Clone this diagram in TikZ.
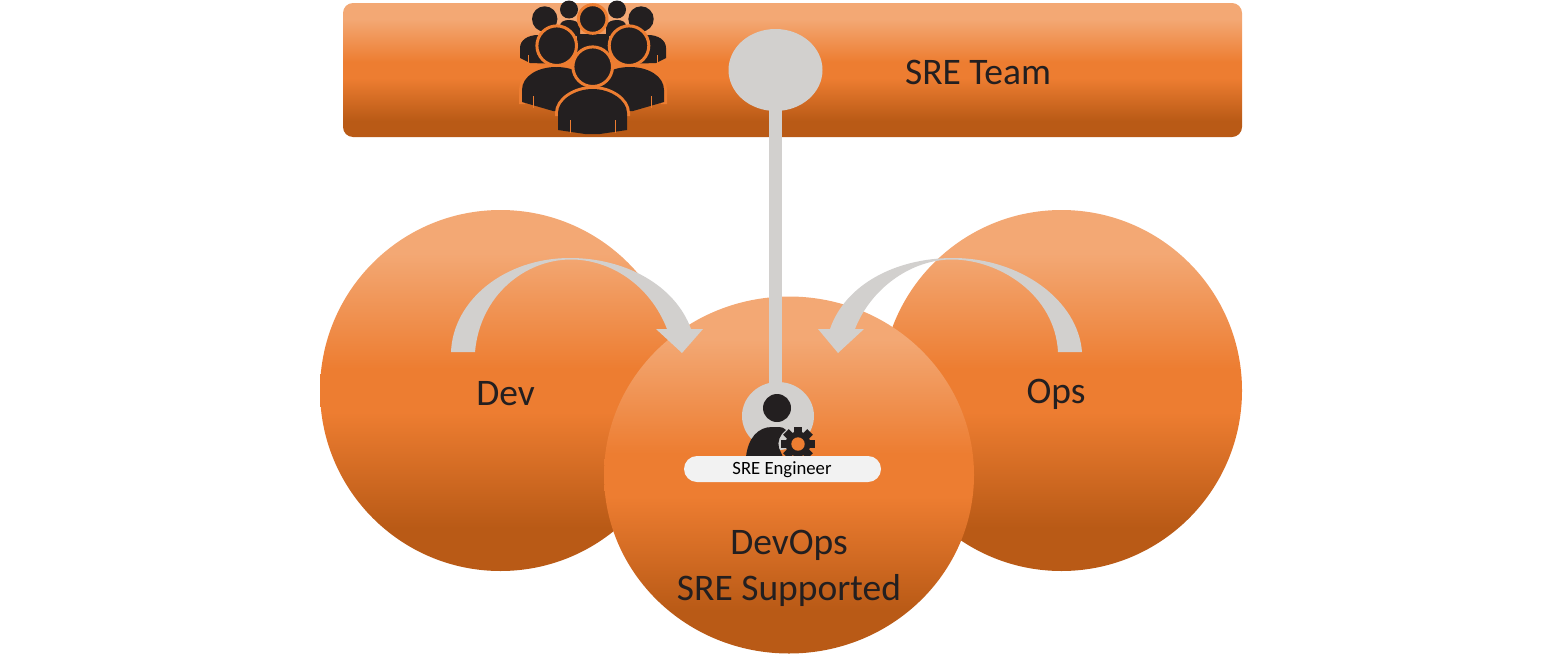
\documentclass[tikz,border=0pt]{standalone}
\usepackage{fontspec}
\setmainfont{Carlito}
\usetikzlibrary{shapes.geometric}
\definecolor{ol}{HTML}{F3A874}
\definecolor{om}{HTML}{ED7D31}
\definecolor{ob}{HTML}{B95A16}
\definecolor{gr}{HTML}{D2D0CE}
\definecolor{ink}{HTML}{231F20}
\definecolor{pillc}{HTML}{F2F2F2}
\pgfdeclareverticalshading{orangeg}{100bp}{color(0bp)=(ob); color(31bp)=(ob); color(47bp)=(om); color(53bp)=(om); color(69bp)=(ol); color(100bp)=(ol)}
\tikzset{
  grad/.style={shade,shading=orangeg,draw=none,inner sep=0pt,outer sep=0pt},
  blob/.style={grad,ellipse,minimum width=#1},
  dot/.style={ellipse,fill=gr,draw=none,inner sep=0pt,outer sep=0pt},
  lbl/.style={text=ink,font=\fontsize{37.5}{44}\selectfont,inner sep=0pt},
  arrowfill/.style={fill=gr,draw=none},
  halo/.style={draw=om,line width=6pt},
  headf/.style={fill=ink,draw=om,line width=3pt},
  backf/.style={fill=ink,draw=none},
  slit/.style={draw=om,line width=0.9pt},
}
\begin{document}
\begin{tikzpicture}[x=1pt,y=-1pt]
\useasboundingbox (0,0) rectangle (1562,653);
% bar
\node[grad,rounded corners=10pt,minimum width=899pt,minimum height=134pt] (bar) at (792.5,70) {};
% circles
\node[blob=361pt,minimum height=361pt] (dev) at (500.5,390.5) {};
\node[blob=361pt,minimum height=361pt] (ops) at (1061.5,390.5) {};
\node[blob=370pt,minimum height=357pt] (devops) at (789,475) {};
% team icon: back row
\fill[backf] (569,9.5) circle (9) (617,9.5) circle (9);
\fill[backf] (560,36) -- (560,26) .. controls (560,22) and (564,20) .. (569,20) .. controls (574,20) and (579,22) .. (580,26) -- (580,36) -- cycle;
\fill[backf] (606,36) -- (606,26) .. controls (607,22) and (612,20) .. (617,20) .. controls (622,20) and (626,22) .. (626,26) -- (626,36) -- cycle;
\fill[backf] (544.7,19) circle (12.7) (641,19) circle (12.7);
\fill[backf] (520,58) -- (520,48) .. controls (520,40) and (528,35) .. (538,35) -- (560,35) -- (560,64) -- (530,63) -- cycle;
\fill[backf] (666,58) -- (666,48) .. controls (666,40) and (658,35) .. (648,35) -- (626,35) -- (626,64) -- (656,63) -- cycle;
\draw[slit] (528.7,55) -- (528.7,63) (657,55) -- (657,63);
\fill[backf] (577,34) rectangle (609,55);
\draw[headf] (592.7,19) circle (14.3);
% team icon: middle row
\draw[halo] (522,104) -- (522,90) .. controls (522,76) and (538,67) .. (556,67) .. controls (575,67) and (590,76) .. (590,90);
\draw[halo] (664,104) -- (664,90) .. controls (664,76) and (648,67) .. (630,67) .. controls (611,67) and (596,76) .. (596,90);
\fill[backf] (522,102) -- (522,90) .. controls (522,76) and (538,67) .. (556,67) .. controls (575,67) and (590,76) .. (590,90) -- (590,111) -- (553,111) -- cycle;
\fill[backf] (664,102) -- (664,90) .. controls (664,76) and (648,67) .. (630,67) .. controls (611,67) and (596,76) .. (596,90) -- (596,111) -- (633,111) -- cycle;
\draw[slit] (533.5,96) -- (533.5,108) (651,96) -- (651,108);
\draw[headf] (556.7,45.7) circle (19.8) (629,45.7) circle (19.8);
% team icon: front
\draw[halo] (558,116) -- (558,113) .. controls (558,100) and (575,89) .. (592.7,89) .. controls (610,89) and (627,100) .. (627,113) -- (627,116);
\fill[backf] (558,130) -- (558,113) .. controls (558,100) and (575,89) .. (592.7,89) .. controls (610,89) and (627,100) .. (627,113) -- (627,130) -- (600,134) -- (585,134) -- cycle;
\draw[slit] (570,120) -- (570,133) (615.5,120) -- (615.5,133);
\draw[headf] (592.7,66.7) circle (19.8);
% connector
\node[dot,minimum width=94pt,minimum height=82pt] (teamdot) at (775.5,70) {};
\node[dot,minimum width=72pt,minimum height=68pt] (engdot) at (778,416) {};
\draw[gr,line width=13pt] (teamdot.center) -- (teamdot.center |- engdot.center);
% arrows
\fill[arrowfill] (451,352) .. controls (453,300) and (505,258) .. (570,258)
  .. controls (625,258) and (675,285) .. (691,329) -- (703,329) -- (682,353) -- (656,329) -- (667,329)
  .. controls (650,285) and (610,259) .. (570,259.5)
  .. controls (525,260) and (480,295) .. (475,352) -- cycle;
\fill[arrowfill] (1082,352) .. controls (1078,300) and (1020,258) .. (953,258)
  .. controls (895,258) and (845,285) .. (830,329) -- (818,329) -- (838,353) -- (864,329) -- (855,329)
  .. controls (870,290) and (910,259) .. (953,259.5)
  .. controls (1000,260) and (1055,295) .. (1058,352) -- cycle;
% engineer icon
\fill[ink] (777,408) circle (14);
\fill[ink] (746,457) .. controls (748,438) and (758,427) .. (772,427) -- (779,427) .. controls (782,427) and (784,428) .. (786,430)
  .. controls (780,434) and (777,442) .. (779,448) -- (783,457) -- cycle;
\foreach \a in {0,45,...,315}
  \fill[ink,rotate around={\a:(798,444)}] (794,427) rectangle (802,436);
\fill[ink] (798,444) circle (12.5);
\fill[om] (798,444) circle (6.7);
% pill
\node[fill=pillc,rounded corners=13pt,minimum width=197pt,minimum height=26pt,inner sep=0pt] (pill) at (782.5,469) {};
\node[text=black,font=\fontsize{18.7}{22}\selectfont,inner sep=0pt] (pilltxt) at (782,470) {SRE Engineer};
% labels
\node[lbl] (teamtxt) at (978,72) {SRE Team};
\node[lbl] (devtxt) at (505.5,394) {Dev};
\node[lbl] (opstxt) at (1056,394) {Ops};
\node[lbl] (dotxt) at (789,545) {DevOps};
\node[lbl] (suptxt) at (789,590) {SRE Supported};
\end{tikzpicture}
\end{document}
